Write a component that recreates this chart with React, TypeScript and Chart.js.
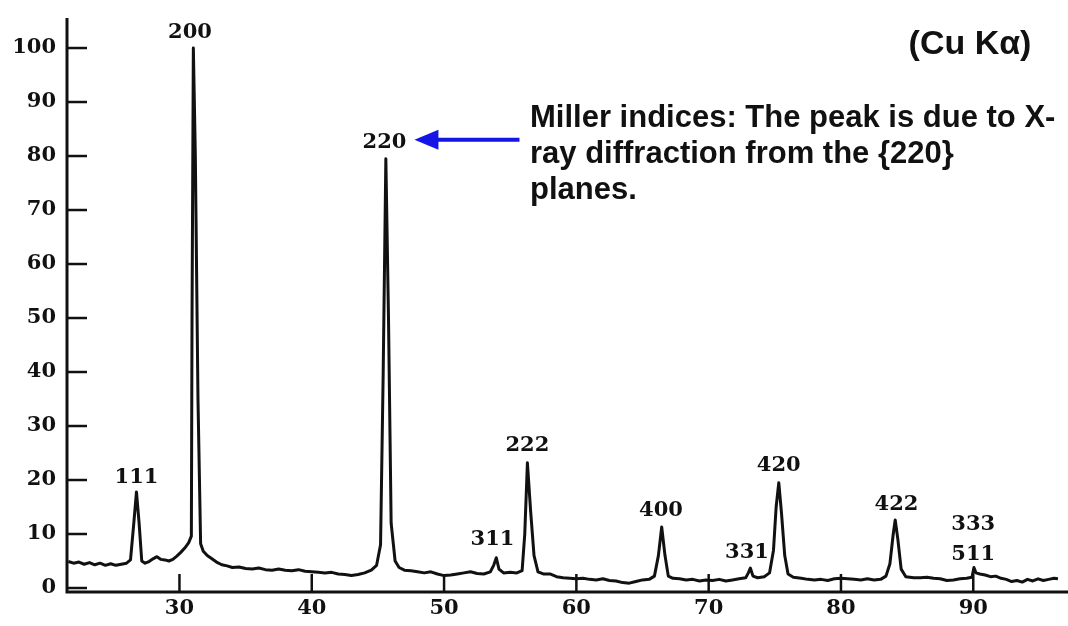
import React, { useEffect, useRef } from "react";
import { Chart, registerables } from "chart.js";

Chart.register(...registerables);

// 2θ (degrees) and relative intensity
const twoTheta = [
  21.6, 22.0, 22.4, 22.8, 23.2, 23.6, 24.0, 24.4, 24.8, 25.2, 25.6, 26.0, 26.3, 26.55, 26.75, 26.95, 27.15,
  27.4, 27.7, 28.0, 28.3, 28.6, 28.9, 29.2, 29.5, 29.8, 30.1, 30.4, 30.7, 30.9, 30.95, 31.05, 31.2, 31.4,
  31.6, 31.8, 32.1, 32.4, 32.8, 33.2, 33.6, 34.0, 34.5, 35.0, 35.5, 36.0, 36.5, 37.0, 37.5, 38.0, 38.5, 39.0,
  39.5, 40.0, 40.5, 41.0, 41.5, 42.0, 42.5, 43.0, 43.5, 44.0, 44.5, 44.9, 45.2, 45.4, 45.6, 45.8, 46.0, 46.3,
  46.6, 47.0, 47.5, 48.0, 48.5, 49.0, 49.5, 50.0, 50.5, 51.0, 51.5, 52.0, 52.5, 53.0, 53.5, 53.75, 53.95, 54.15,
  54.5, 55.0, 55.5, 55.9, 56.1, 56.3, 56.55, 56.8, 57.1, 57.5, 58.0, 58.5, 59.0, 59.5, 60.0, 60.5, 61.0, 61.5,
  62.0, 62.5, 63.0, 63.5, 64.0, 64.5, 65.0, 65.5, 65.9, 66.2, 66.45, 66.7, 66.95, 67.3, 67.8, 68.3, 68.8, 69.3,
  69.8, 70.3, 70.8, 71.3, 71.8, 72.3, 72.8, 73.0, 73.15, 73.35, 73.7, 74.2, 74.6, 74.9, 75.1, 75.3, 75.5, 75.75,
  76.0, 76.4, 77.0, 77.5, 78.0, 78.5, 79.0, 79.5, 80.0, 80.5, 81.0, 81.5, 82.0, 82.5, 83.0, 83.4, 83.7, 83.95,
  84.1, 84.3, 84.55, 84.9, 85.5, 86.0, 86.5, 87.0, 87.5, 88.0, 88.5, 89.0, 89.5, 89.9, 90.05, 90.2, 90.5, 90.9,
  91.3, 91.7, 92.1, 92.5, 92.9, 93.3, 93.7, 94.1, 94.5, 94.9, 95.3, 95.7, 96.1, 96.4,
];
const intensity = [
  4.9, 4.6, 4.8, 4.4, 4.7, 4.3, 4.6, 4.2, 4.5, 4.2, 4.4, 4.6, 5.2, 12, 17.8, 12, 5.0,
  4.6, 4.9, 5.4, 5.8, 5.3, 5.2, 5.0, 5.3, 5.9, 6.6, 7.4, 8.4, 9.6, 50, 100, 80, 35,
  8.2, 6.8, 6.0, 5.5, 4.8, 4.3, 4.1, 3.8, 3.9, 3.6, 3.5, 3.7, 3.4, 3.3, 3.5, 3.3, 3.2, 3.4,
  3.1, 3.0, 2.9, 2.8, 2.9, 2.6, 2.5, 2.3, 2.5, 2.8, 3.3, 4.2, 8, 40, 79.5, 50, 12, 5.0,
  3.8, 3.3, 3.2, 3.0, 2.8, 3.0, 2.6, 2.3, 2.4, 2.6, 2.8, 3.0, 2.7, 2.6, 3.0, 4.2, 5.6, 3.5,
  2.8, 2.9, 2.8, 3.2, 10, 23.2, 14, 6, 3.0, 2.6, 2.6, 2.1, 1.9, 1.8, 1.7, 1.8, 1.6, 1.5,
  1.7, 1.4, 1.3, 1.0, 0.9, 1.2, 1.5, 1.6, 2.2, 6, 11.3, 6, 2.2, 1.8, 1.7, 1.5, 1.6, 1.3,
  1.5, 1.4, 1.6, 1.3, 1.5, 1.7, 1.9, 2.8, 3.7, 2.2, 1.9, 2.1, 2.8, 7, 15, 19.5, 14, 6,
  2.6, 2.0, 1.8, 1.6, 1.5, 1.6, 1.4, 1.7, 1.8, 1.7, 1.6, 1.5, 1.7, 1.5, 1.6, 2.2, 4.5, 10,
  12.6, 9, 3.5, 2.1, 1.9, 1.9, 2.0, 1.8, 1.7, 1.4, 1.5, 1.7, 1.8, 2.0, 3.8, 2.8, 2.6, 2.4,
  2.1, 2.2, 1.8, 1.6, 1.2, 1.4, 1.1, 1.6, 1.3, 1.7, 1.4, 1.6, 1.8, 1.7,
];

const xTicks = [30, 40, 50, 60, 70, 80, 90];
const yTicks = [0, 10, 20, 30, 40, 50, 60, 70, 80, 90, 100];

// Miller-index labels over the peaks
const peakLabels = ["111", "200", "220", "311", "222", "400", "331", "420", "422", "333", "511"];
const peakLabelX = [26.75, 30.8, 45.5, 53.66, 56.3, 66.4, 72.9, 75.3, 84.2, 90.0, 90.0];
const peakLabelY = [20.9, 103.3, 83, 9.4, 26.9, 14.8, 7.0, 23.1, 15.9, 12.2, 6.7];

const noteLines = [
  "Miller indices: The peak is due to X-",
  "ray diffraction from the {220}",
  "planes.",
];
const sourceLabel = "(Cu K\u03b1)";

const SERIF = '"DejaVu Serif"';

const decorPlugin = {
  id: "decor",
  afterDraw(chart: any) {
    const { ctx, chartArea } = chart;
    const xs = chart.scales.x;
    const ys = chart.scales.y;
    ctx.save();
    ctx.strokeStyle = "#111";
    ctx.lineCap = "butt";
    // axes
    ctx.lineWidth = 3;
    ctx.beginPath();
    ctx.moveTo(chartArea.left, chartArea.top);
    ctx.lineTo(chartArea.left, chartArea.bottom);
    ctx.lineTo(chartArea.right, chartArea.bottom);
    ctx.stroke();
    // inward ticks
    ctx.lineWidth = 2.5;
    yTicks.forEach((v) => {
      const py = ys.getPixelForValue(v);
      ctx.beginPath();
      ctx.moveTo(chartArea.left, py);
      ctx.lineTo(chartArea.left + 20, py);
      ctx.stroke();
    });
    xTicks.forEach((v) => {
      const px = xs.getPixelForValue(v);
      ctx.beginPath();
      ctx.moveTo(px, chartArea.bottom);
      ctx.lineTo(px, chartArea.bottom - 18);
      ctx.stroke();
    });
    // peak labels
    ctx.fillStyle = "#111";
    ctx.font = `bold 21px ${SERIF}`;
    ctx.textAlign = "center";
    ctx.textBaseline = "alphabetic";
    peakLabels.forEach((t, i) => {
      ctx.fillText(t, xs.getPixelForValue(peakLabelX[i]), ys.getPixelForValue(peakLabelY[i]) + 8);
    });
    // blue arrow pointing at 220
    const ay = ys.getPixelForValue(83);
    const tipX = xs.getPixelForValue(47.76);
    const tailX = xs.getPixelForValue(55.7);
    ctx.strokeStyle = "#1515e6";
    ctx.fillStyle = "#1515e6";
    ctx.lineWidth = 4;
    ctx.beginPath();
    ctx.moveTo(tailX, ay);
    ctx.lineTo(tipX + 20, ay);
    ctx.stroke();
    ctx.beginPath();
    ctx.moveTo(tipX, ay);
    ctx.lineTo(tipX + 24, ay - 10);
    ctx.lineTo(tipX + 24, ay + 10);
    ctx.closePath();
    ctx.fill();
    // note text
    ctx.fillStyle = "#111";
    ctx.textAlign = "left";
    ctx.textBaseline = "middle";
    ctx.font = 'bold 31px "Liberation Sans"';
    noteLines.forEach((t, i) => ctx.fillText(t, 530, 118 + i * 36));
    ctx.textAlign = "center";
    ctx.font = 'bold 34px "Liberation Sans"';
    ctx.fillText(sourceLabel, 970, 45);
    ctx.restore();
  },
};

export default function App() {
  const ref = useRef<HTMLCanvasElement | null>(null);
  useEffect(() => {
    if (!ref.current) return;
    const chart = new Chart(ref.current, {
      type: "scatter",
      data: {
        datasets: [
          {
            data: twoTheta.map((x, i) => ({ x, y: intensity[i] })),
            showLine: true,
            borderColor: "#111",
            borderWidth: 3,
            pointRadius: 0,
            tension: 0,
            borderJoinStyle: "round",
          } as any,
        ],
      },
      options: {
        animation: false,
        responsive: false,
        layout: { padding: { top: 18, right: 0, left: 0, bottom: 0 } },
        plugins: { legend: { display: false }, tooltip: { enabled: false } },
        scales: {
          x: {
            type: "linear",
            min: 21.5,
            max: 97.16,
            grid: { display: false, drawTicks: false },
            border: { display: false },
            afterBuildTicks: (s: any) => {
              s.ticks = xTicks.map((v) => ({ value: v }));
            },
            afterFit: (s: any) => {
              s.height = 34;
              s.paddingLeft = 0;
              s.paddingRight = 0;
            },
            ticks: {
              color: "#111",
              padding: 4,
              maxRotation: 0,
              autoSkip: false,
              font: { family: "DejaVu Serif", size: 21, weight: "bold" },
            },
          },
          y: {
            type: "linear",
            min: -0.74,
            max: 105.56,
            grid: { display: false, drawTicks: false },
            border: { display: false },
            afterBuildTicks: (s: any) => {
              s.ticks = yTicks.map((v) => ({ value: v }));
            },
            afterFit: (s: any) => {
              s.width = 67;
              s.paddingTop = 0;
              s.paddingBottom = 0;
            },
            ticks: {
              color: "#111",
              padding: 11,
              autoSkip: false,
              font: { family: "DejaVu Serif", size: 21, weight: "bold" },
            },
          },
        },
      },
      plugins: [decorPlugin],
    });
    return () => chart.destroy();
  }, []);
  return (
    <div style={{ position: "fixed", left: 0, top: 0, width: 1068, height: 626, background: "#fff" }}>
      <canvas ref={ref} width={1068} height={626} style={{ display: "block" }} />
    </div>
  );
}
